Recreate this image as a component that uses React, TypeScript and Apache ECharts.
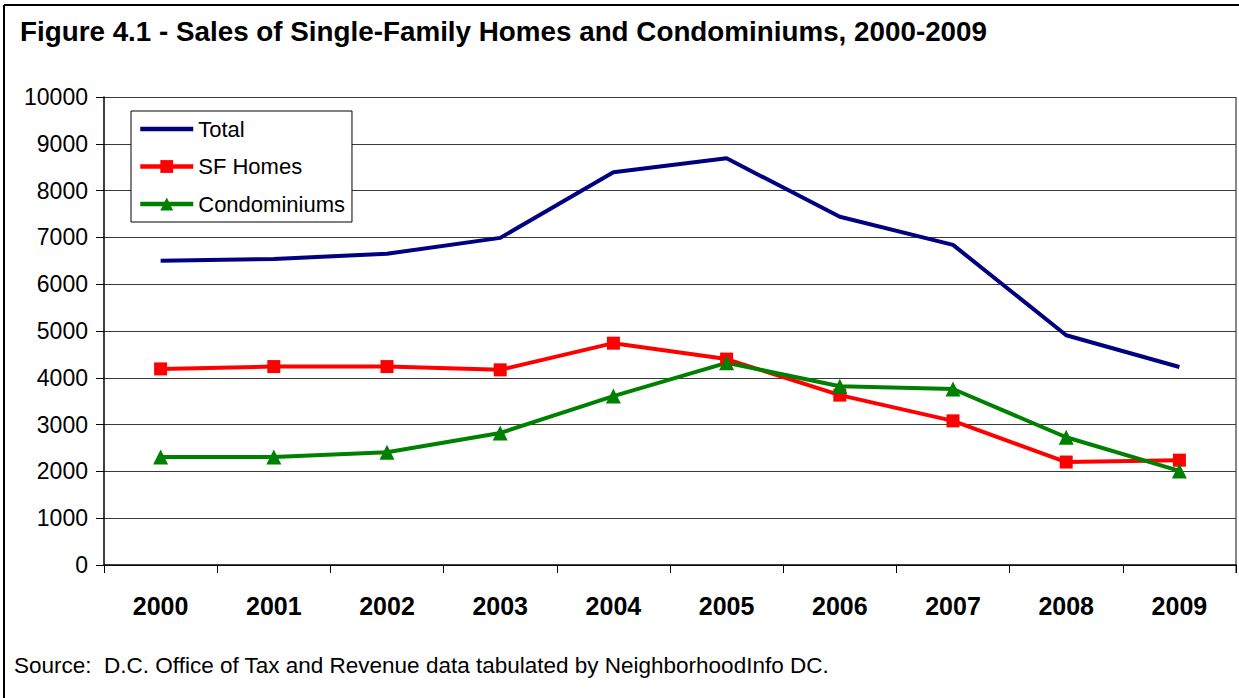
import React, { useEffect, useRef } from "react";
import * as echarts from "echarts";

const years = ["2000", "2001", "2002", "2003", "2004", "2005", "2006", "2007", "2008", "2009"];
const totalSales = [6500, 6540, 6650, 6990, 8390, 8690, 7440, 6840, 4910, 4230];
const sfHomes = [4190, 4240, 4240, 4170, 4740, 4400, 3630, 3080, 2200, 2240];
const condos = [2310, 2310, 2410, 2820, 3610, 4320, 3820, 3760, 2730, 2010];
const yTicks = { min: 0, max: 10000, interval: 1000 };

const titleText = "Figure 4.1 - Sales of Single-Family Homes and Condominiums, 2000-2009";
const sourceText = "Source:  D.C. Office of Tax and Revenue data tabulated by NeighborhoodInfo DC.";

export default function App() {
  const ref = useRef<HTMLDivElement>(null);
  useEffect(() => {
    if (!ref.current) return;
    const chart = echarts.init(ref.current, null, { renderer: "svg" });
    const font = "Liberation Sans, Arial, sans-serif";
    chart.setOption({
      animation: false,
      backgroundColor: "#ffffff",
      textStyle: { fontFamily: font },
      grid: { left: 104, right: 3, top: 97, bottom: 133, containLabel: false },
      legend: {
        orient: "vertical",
        left: 131,
        top: 111,
        padding: [7, 7, 7, 7],
        itemGap: 15.5,
        itemWidth: 53,
        itemHeight: 16,
        itemTextGap: 2,
        symbolKeepAspect: true,
        borderColor: "#000",
        borderWidth: 1,
        backgroundColor: "#fff",
        lineStyle: { width: 4.5 },
        textStyle: { fontSize: 22, color: "#000", fontFamily: font, lineHeight: 20 },
        data: [
          { name: "Total", icon: "path://M0,0L53,0L53,4.5L0,4.5Z" },
          { name: "SF Homes" },
          { name: "Condominiums" },
        ],
      },
      xAxis: {
        type: "category",
        data: years,
        boundaryGap: true,
        axisLine: { lineStyle: { color: "#000", width: 1.5 } },
        axisTick: { show: true, length: 8, inside: false, lineStyle: { color: "#000" } },
        axisLabel: { fontSize: 25, fontWeight: "bold", color: "#000", margin: 28, fontFamily: font },
        splitLine: { show: false },
      },
      yAxis: {
        type: "value",
        min: yTicks.min,
        max: yTicks.max,
        interval: yTicks.interval,
        axisLine: { show: true, lineStyle: { color: "#000", width: 1.5 } },
        axisTick: { show: true, length: 8, inside: false, lineStyle: { color: "#000" } },
        axisLabel: {
          fontSize: 23,
          color: "#000",
          margin: 16,
          fontFamily: font,
          formatter: (v: number) => String(v),
        },
        splitLine: { show: true, lineStyle: { color: "#3a3a3a", width: 1 } },
      },
      series: [
        {
          name: "Total",
          type: "line",
          data: totalSales,
          color: "#000080",
          lineStyle: { width: 4, color: "#000080" },
          symbol: "circle",
          showSymbol: false,
        },
        {
          name: "SF Homes",
          type: "line",
          data: sfHomes,
          color: "#ff0000",
          lineStyle: { width: 4, color: "#ff0000" },
          symbol: "rect",
          symbolSize: 13,
          itemStyle: { color: "#ff0000" },
        },
        {
          name: "Condominiums",
          type: "line",
          data: condos,
          color: "#008000",
          lineStyle: { width: 4, color: "#008000" },
          symbol: "triangle",
          symbolSize: 15,
          itemStyle: { color: "#008000" },
        },
      ],
      graphic: [
        { type: "line", shape: { x1: 4, y1: 5, x2: 4, y2: 698 }, style: { stroke: "#000", lineWidth: 2 } },
        { type: "line", shape: { x1: 4, y1: 5, x2: 1239, y2: 5 }, style: { stroke: "#000", lineWidth: 2 } },
        { type: "line", shape: { x1: 1236, y1: 97, x2: 1236, y2: 573 }, style: { stroke: "#888", lineWidth: 2 } },
        {
          type: "text",
          left: 20,
          top: 17,
          style: { text: titleText, font: "bold 27.8px " + font, fill: "#000" },
        },
        {
          type: "text",
          left: 14,
          top: 654,
          style: { text: sourceText, font: "22.5px " + font, fill: "#000" },
        },
      ],
    });
    return () => chart.dispose();
  }, []);
  return (
    <div
      ref={ref}
      style={{ position: "absolute", left: 0, top: 0, width: 1239, height: 698, background: "#fff" }}
    />
  );
}
